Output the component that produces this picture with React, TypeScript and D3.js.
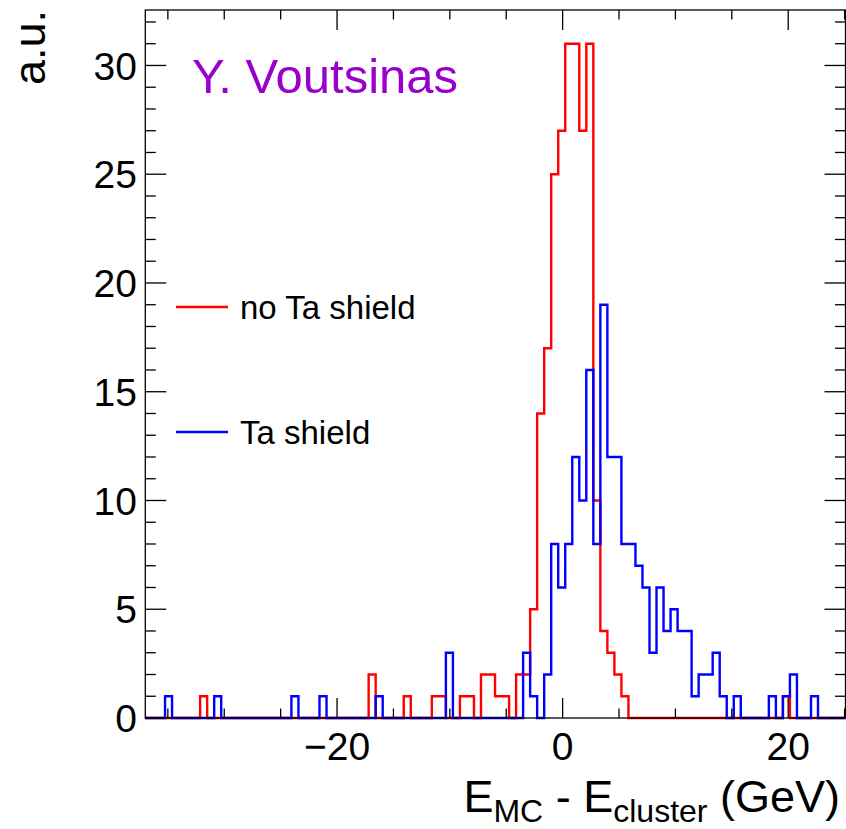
import React from 'react'
import * as d3 from 'd3'

// histogram binning
const binStart = -35.25
const binWidth = 0.6225

// counts per bin, "no Ta shield" (red)
const noShieldCounts = [
  0, 0, 0, 0, 0, 1, 0, 0, 0, 0,
  0, 0, 0, 0, 0, 0, 0, 0, 0, 0,
  0, 0, 0, 0, 0, 0, 0, 0, 0, 2,
  0, 0, 0, 0, 1, 0, 0, 0, 1, 1,
  0, 0, 1, 1, 0, 2, 2, 1, 1, 0,
  2, 2, 5, 14, 17, 25, 27, 31, 31, 27,
  31, 10, 4, 3, 2, 1, 0, 0, 0, 0,
  0, 0, 0, 0, 0, 0, 0, 0, 0, 0,
  0, 0, 0, 0, 0, 0, 0, 0, 1, 0,
  0, 0, 0, 0,
]

// counts per bin, "Ta shield" (blue)
const taShieldCounts = [
  1, 0, 0, 0, 0, 0, 0, 1, 0, 0,
  0, 0, 0, 0, 0, 0, 0, 0, 1, 0,
  0, 0, 1, 0, 0, 0, 0, 0, 0, 0,
  1, 0, 0, 0, 0, 0, 0, 0, 0, 0,
  3, 0, 0, 0, 0, 0, 0, 0, 0, 0,
  0, 3, 1, 0, 2, 8, 6, 8, 12, 10,
  16, 8, 19, 12, 12, 8, 8, 7, 6, 3,
  6, 4, 5, 4, 4, 1, 2, 2, 3, 1,
  0, 1, 0, 0, 0, 0, 1, 0, 1, 2,
  0, 0, 1, 0,
]

const xDomain: [number, number] = [-37.0, 25.08]
const yDomain: [number, number] = [0, 32.55]
const xTicks = d3.range(-35, 26, 5)
const xLabels = [-20, 0, 20]
const yTicks = d3.range(0, 33, 1)
const yLabels = [0, 5, 10, 15, 20, 25, 30]

const legendItems = [
  { label: 'no Ta shield', color: '#ff0000' },
  { label: 'Ta shield', color: '#0000ff' },
]

const W = 846
const H = 829
const left = 145.3
const right = 845.5
const top = 10
const bottom = 718
const FONT = '"Liberation Sans", Arial, Helvetica, sans-serif'

function histPath(counts: number[], x: d3.ScaleLinear<number, number>, y: d3.ScaleLinear<number, number>) {
  const pts: [number, number][] = [[xDomain[0], 0]]
  counts.forEach((c, i) => pts.push([binStart + i * binWidth, c]))
  pts.push([binStart + counts.length * binWidth, 0])
  pts.push([xDomain[1], 0])
  const line = d3.line<[number, number]>()
    .x(d => x(d[0]))
    .y(d => y(d[1]))
    .curve(d3.curveStepAfter)
  return line(pts) || ''
}

export default function App() {
  const x = d3.scaleLinear().domain(xDomain).range([left, right])
  const y = d3.scaleLinear().domain(yDomain).range([bottom, top])
  const fmt = d3.format('d')

  return (
    <svg width={W} height={H} style={{ position: 'absolute', left: 0, top: 0, background: 'white' }}
      fontFamily={FONT}>
      <rect x={0} y={0} width={W} height={H} fill='white' />

      {/* histograms */}
      <path d={histPath(noShieldCounts, x, y)} fill='none' stroke='#ff0000' strokeWidth={2.4} strokeLinejoin='miter' />
      <path d={histPath(taShieldCounts, x, y)} fill='none' stroke='#0000ff' strokeWidth={2.4} strokeLinejoin='miter' />

      {/* frame */}
      <rect x={left} y={top} width={right - left} height={bottom - top} fill='none' stroke='black' strokeWidth={1.3} />

      {/* x ticks, bottom and top */}
      {xTicks.map(t => {
        const len = xLabels.includes(t) ? 20 : 9.5
        return <g key={'xt' + t}>
          <line x1={x(t)} x2={x(t)} y1={bottom} y2={bottom - len} stroke='black' strokeWidth={1.3} />
          <line x1={x(t)} x2={x(t)} y1={top} y2={top + len} stroke='black' strokeWidth={1.3} />
        </g>
      })}
      {xLabels.map(t => (
        <text key={'xl' + t} x={x(t)} y={760} textAnchor='middle' fontSize={39}>{t < 0 ? '\u2212' + fmt(-t) : fmt(t)}</text>
      ))}

      {/* y ticks, left and right */}
      {yTicks.map(t => {
        const len = t % 5 === 0 ? 21 : 10.5
        return <g key={'yt' + t}>
          <line x1={left} x2={left + len} y1={y(t)} y2={y(t)} stroke='black' strokeWidth={1.3} />
          <line x1={right} x2={right - len} y1={y(t)} y2={y(t)} stroke='black' strokeWidth={1.3} />
        </g>
      })}
      {yLabels.map(t => (
        <text key={'yl' + t} x={137} y={y(t)} dy='0.36em' textAnchor='end' fontSize={39}>{fmt(t)}</text>
      ))}

      {/* axis titles */}
      <text transform={`translate(45, ${top}) rotate(-90)`} textAnchor='end' fontSize={45}>a.u.</text>
      <text x={840} y={812} textAnchor='end' fontSize={45}>
        E<tspan fontSize={32} dy={10}>MC</tspan><tspan dy={-10}> - E</tspan><tspan fontSize={32} dy={10}>cluster</tspan><tspan dy={-10}> (GeV)</tspan>
      </text>

      {/* author label */}
      <text x={192} y={93} fontSize={49} fill='#9900cc'>Y. Voutsinas</text>

      {/* legend */}
      {legendItems.map((d, i) => {
        const ly = 307 + i * 125
        return <g key={d.label}>
          <line x1={176} x2={228} y1={ly} y2={ly} stroke={d.color} strokeWidth={2.4} />
          <text x={240} y={ly} dy='0.36em' fontSize={33}>{d.label}</text>
        </g>
      })}
    </svg>
  )
}
